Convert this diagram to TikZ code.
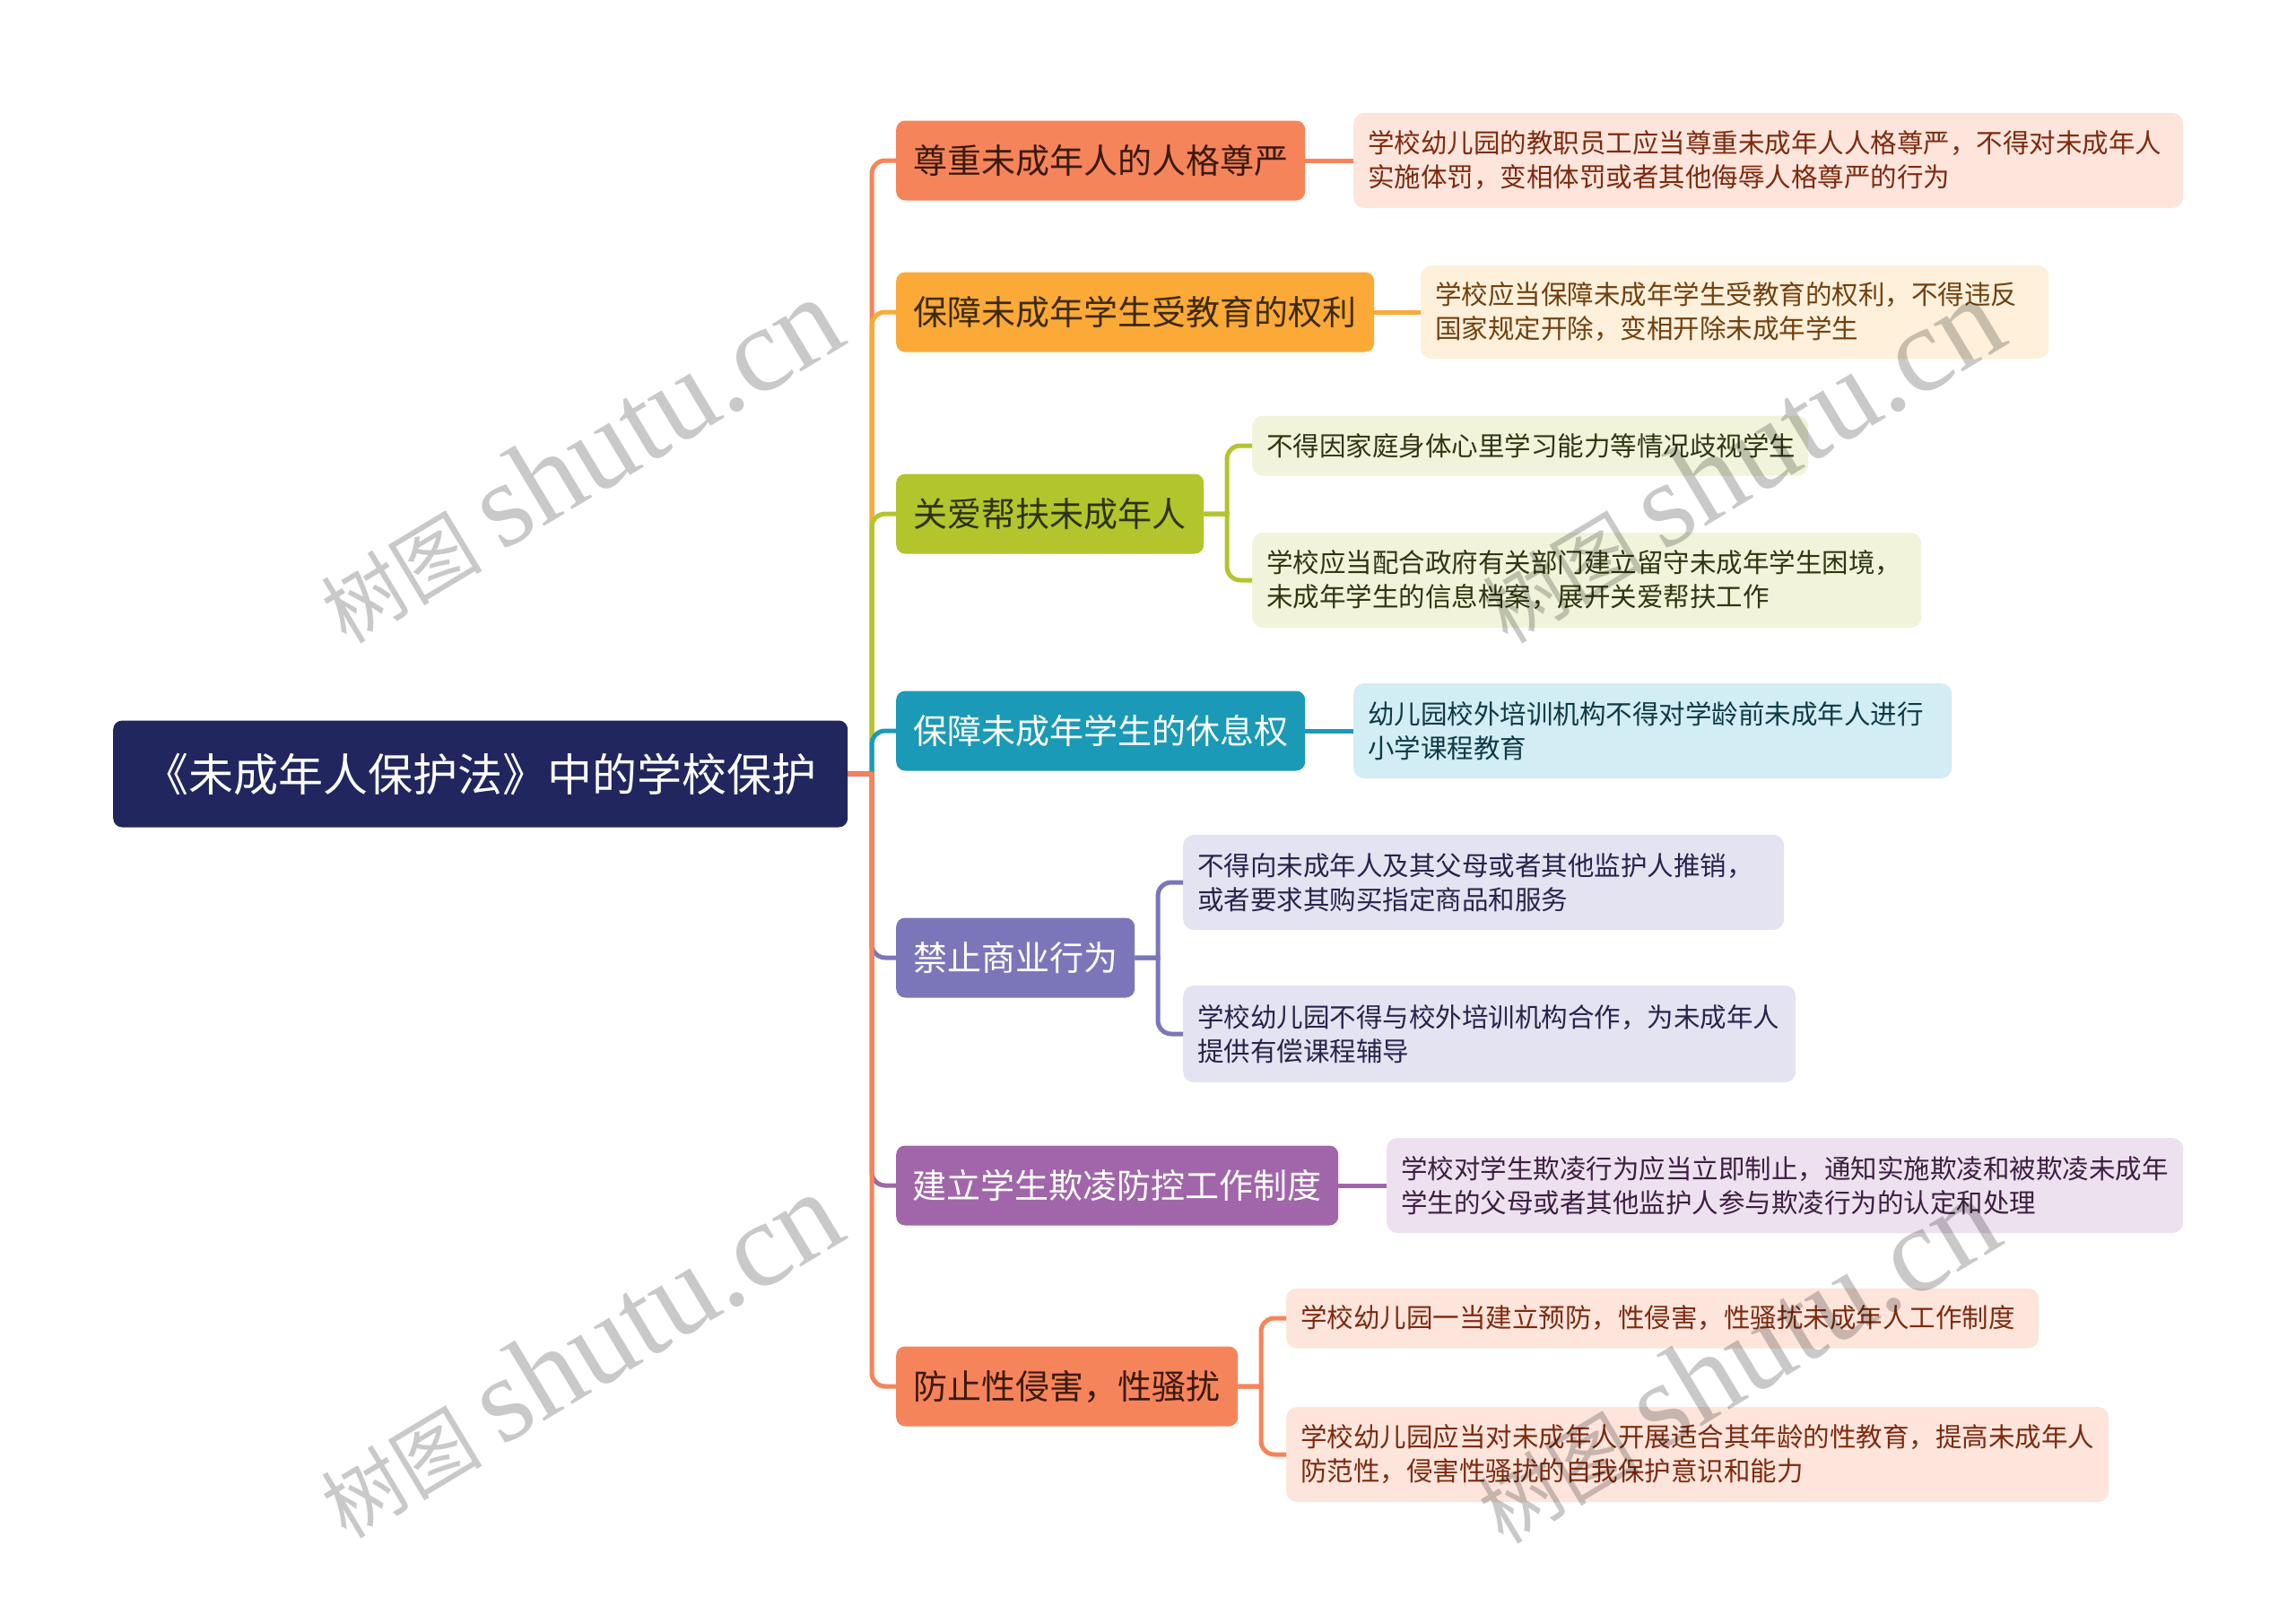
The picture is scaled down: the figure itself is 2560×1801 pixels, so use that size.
\documentclass[tikz,border=0pt]{standalone}
\usepackage{fontspec}
\setmainfont{Noto Sans CJK SC}
\newfontfamily\wmlat{Liberation Serif}
\newfontfamily\wmcjk{Noto Sans CJK SC}
\definecolor{rootc}{HTML}{21265F}
\definecolor{cA}{HTML}{F6845A}
\definecolor{cB}{HTML}{FBAA38}
\definecolor{cC}{HTML}{B2C52C}
\definecolor{cD}{HTML}{1A9AB6}
\definecolor{cE}{HTML}{7B76BA}
\definecolor{cF}{HTML}{A066A9}
\definecolor{fA}{HTML}{FDE5DC}
\definecolor{fB}{HTML}{FEF0DA}
\definecolor{fC}{HTML}{F1F4DA}
\definecolor{fD}{HTML}{D2EDF3}
\definecolor{fE}{HTML}{E4E3F1}
\definecolor{fF}{HTML}{EEE1EF}
\definecolor{tA}{HTML}{7D2A0F}
\definecolor{tB}{HTML}{704010}
\definecolor{tC}{HTML}{2F3511}
\definecolor{tD}{HTML}{0E3A46}
\definecolor{tE}{HTML}{26244C}
\definecolor{tF}{HTML}{3C1F42}
\definecolor{kA}{HTML}{3B1A0C}
\definecolor{kB}{HTML}{3E2A08}
\definecolor{kC}{HTML}{2D330A}
\tikzset{
  rootbox/.style={draw=none, fill=rootc, text=white, rounded corners=10pt,
    minimum height=119pt, minimum width=819pt, inner sep=0pt, anchor=west,
    font=\fontsize{50}{60}\selectfont},
  branchbox/.style={draw=none, rounded corners=10pt, minimum height=89pt,
    inner sep=0pt, anchor=west, font=\fontsize{38}{46}\selectfont},
  leafbox/.style={draw=none, rounded corners=12pt, inner xsep=16pt, inner ysep=0pt,
    anchor=west, align=left, font=\fontsize{29.5}{38}\selectfont},
  conn/.style={line width=5pt},
  wm/.style={text=black, text opacity=0.21, inner sep=0pt}
}
\begin{document}
\begin{tikzpicture}[x=1pt,y=-1pt]
\useasboundingbox (0,0) rectangle (2560,1801);
\fill[white] (0,0) rectangle (2560,1801);

% root
\node[rootbox] (root) at (126,863) {《未成年人保护法》中的学校保护};

% branches
\node[branchbox, fill=cA, text=kA, minimum width=456pt] (b1) at (999,179) {尊重未成年人的人格尊严};
\node[branchbox, fill=cB, text=kB, minimum width=533pt] (b2) at (999,348) {保障未成年学生受教育的权利};
\node[branchbox, fill=cC, text=kC, minimum width=343pt] (b3) at (999,573) {关爱帮扶未成年人};
\node[branchbox, fill=cD, text=white, minimum width=456pt] (b4) at (999,815) {保障未成年学生的休息权};
\node[branchbox, fill=cE, text=white, minimum width=266pt] (b5) at (999,1068) {禁止商业行为};
\node[branchbox, fill=cF, text=white, minimum width=493pt] (b6) at (999,1322) {建立学生欺凌防控工作制度};
\node[branchbox, fill=cA, text=kA, minimum width=381pt] (b7) at (999,1546) {防止性侵害，性骚扰};

% leaves
\node[leafbox, fill=fA, text=tA, text width=893pt, minimum height=106pt] (l1) at (1509,179)
  {学校幼儿园的教职员工应当尊重未成年人人格尊严，不得对未成年人\\实施体罚，变相体罚或者其他侮辱人格尊严的行为};
\node[leafbox, fill=fB, text=tB, text width=668pt, minimum height=104pt] (l2) at (1584,348)
  {学校应当保障未成年学生受教育的权利，不得违反\\国家规定开除，变相开除未成年学生};
\node[leafbox, fill=fC, text=tC, text width=588pt, minimum height=67pt] (l3a) at (1396,497)
  {不得因家庭身体心里学习能力等情况歧视学生};
\node[leafbox, fill=fC, text=tC, text width=714pt, minimum height=106pt] (l3b) at (1396,647)
  {学校应当配合政府有关部门建立留守未成年学生困境，\\未成年学生的信息档案，展开关爱帮扶工作};
\node[leafbox, fill=fD, text=tD, text width=635pt, minimum height=106pt] (l4) at (1509,815)
  {幼儿园校外培训机构不得对学龄前未成年人进行\\小学课程教育};
\node[leafbox, fill=fE, text=tE, text width=638pt, minimum height=106pt] (l5a) at (1319,984)
  {不得向未成年人及其父母或者其他监护人推销，\\或者要求其购买指定商品和服务};
\node[leafbox, fill=fE, text=tE, text width=651pt, minimum height=108pt] (l5b) at (1319,1153)
  {学校幼儿园不得与校外培训机构合作，为未成年人\\提供有偿课程辅导};
\node[leafbox, fill=fF, text=tF, text width=856pt, minimum height=106pt] (l6) at (1546,1322)
  {学校对学生欺凌行为应当立即制止，通知实施欺凌和被欺凌未成年\\学生的父母或者其他监护人参与欺凌行为的认定和处理};
\node[leafbox, fill=fA, text=tA, text width=807pt, minimum height=67pt] (l7a) at (1434,1470)
  {学校幼儿园一当建立预防，性侵害，性骚扰未成年人工作制度};
\node[leafbox, fill=fA, text=tA, text width=885pt, minimum height=106pt] (l7b) at (1434,1622)
  {学校幼儿园应当对未成年人开展适合其年龄的性教育，提高未成年人\\防范性，侵害性骚扰的自我保护意识和能力};

% trunk connectors (root -> branches)
\coordinate (tr) at (972,863);
\draw[conn, cA] (root.east) -- (tr) [rounded corners=15pt] |- (b1.west);
\draw[conn, cB] (root.east) -- (tr) [rounded corners=15pt] |- (b2.west);
\draw[conn, cC] (root.east) -- (tr) [rounded corners=15pt] |- (b3.west);
\draw[conn, cD] (root.east) -- (tr) [rounded corners=15pt] |- (b4.west);
\draw[conn, cE] (root.east) -- (tr) [rounded corners=15pt] |- (b5.west);
\draw[conn, cF] (root.east) -- (tr) [rounded corners=15pt] |- (b6.west);
\draw[conn, cA] (root.east) -- (tr) [rounded corners=15pt] |- (b7.west);

% branch -> leaf connectors
\draw[conn, cA] (b1.east) -- (l1.west);
\draw[conn, cB] (b2.east) -- (l2.west);
\draw[conn, cC] (b3.east) -- (1368,573) [rounded corners=15pt] |- (l3a.west);
\draw[conn, cC] (b3.east) -- (1368,573) [rounded corners=15pt] |- (l3b.west);
\draw[conn, cD] (b4.east) -- (l4.west);
\draw[conn, cE] (b5.east) -- (1291,1068) [rounded corners=15pt] |- (l5a.west);
\draw[conn, cE] (b5.east) -- (1291,1068) [rounded corners=15pt] |- (l5b.west);
\draw[conn, cF] (b6.east) -- (l6.west);
\draw[conn, cA] (b7.east) -- (1406,1546) [rounded corners=15pt] |- (l7a.west);
\draw[conn, cA] (b7.east) -- (1406,1546) [rounded corners=15pt] |- (l7b.west);

% watermarks
\foreach \wx/\wy [count=\i] in {645/514, 1940/514, 645/1512, 1935/1518}{
  \node[wm, rotate=31] (wm\i) at (\wx,\wy) {{\wmcjk\fontsize{90}{95}\selectfont 树图}\hspace{22pt}{\wmlat\fontsize{135}{140}\selectfont shutu.cn}};
}
\end{tikzpicture}
\end{document}
